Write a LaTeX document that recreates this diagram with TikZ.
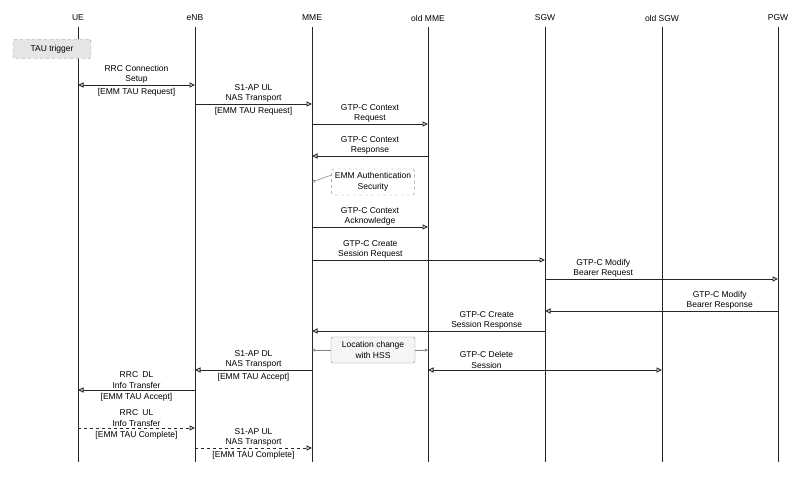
\documentclass[tikz,border=0pt]{standalone}
\usepackage{fontspec}
\setmainfont{Liberation Sans}
\usepackage{xcolor}
\usetikzlibrary{arrows.meta,positioning}

\begin{document}
\begin{tikzpicture}[x=1pt,y=-1pt,
	font=\fontsize{8.5}{10.5}\selectfont,
	life/.style={draw=black!85, line width=0.8pt},
	msg/.style={draw=black!85, line width=0.9pt, -{Triangle[open,length=5.5pt,width=5pt]}},
	both/.style={msg, {Triangle[open,length=5.5pt,width=5pt]}-{Triangle[open,length=5.5pt,width=5pt]}},
	lbl/.style={above=0pt, align=center, inner sep=1pt},
	sub/.style={below=2pt, inner sep=1pt},
	side/.style={draw=black!50, line width=0.5pt, -{Triangle[open,length=3pt,width=3pt]}},
	comment/.style={rectangle, rounded corners=2pt, align=center, draw=black!45, minimum height=26pt}]
	\useasboundingbox (0,0) rectangle (800,487);
	% lifelines
	\node (ue) at (78,18) {UE};
	\node (enb) at (195,18) {eNB};
	\node (mme) at (312,18) {MME};
	\node (oldmme) at (428,18) {old MME};
	\node (sgw) at (545,18) {SGW};
	\node (oldsgw) at (662,18) {old SGW};
	\node (pgw) at (778,18) {PGW};
	\coordinate (top) at (0,27);
	\coordinate (bottom) at (0,462);
	\foreach \n in {ue,enb,mme,oldmme,sgw,oldsgw,pgw}
		\draw [life] (\n |- top) -- (\n |- bottom);
	
	\node (tau) [comment, dashed, fill=black!10, minimum width=78pt, minimum height=19pt] at (52,49) {TAU trigger};
	
	\coordinate (m1) at (0,85);
	\draw [both] (ue |- m1) -- node [lbl] {RRC Connection\\Setup} node [sub] {[EMM TAU Request]} (enb |- m1);
	\coordinate (m2) at (0,104);
	\draw [msg] (enb |- m2) -- node [lbl] {S1-AP UL\\NAS Transport} node [sub] {[EMM TAU Request]} (mme |- m2);
	\coordinate (m3) at (0,124);
	\draw [msg] (mme |- m3) -- node [lbl] {GTP-C Context\\Request} (oldmme |- m3);
	\coordinate (m4) at (0,156);
	\draw [msg] (oldmme |- m4) -- node [lbl] {GTP-C Context\\Response} (mme |- m4);
	
	\node (auth) [comment, dashed, minimum width=80pt] at (373,182) {EMM Authentication\\Security};
	\draw [side] ([yshift=7pt]auth.west) -- (mme |- auth.west);
	
	\coordinate (m5) at (0,227);
	\draw [msg] (mme |- m5) -- node [lbl] {GTP-C Context\\Acknowledge} (oldmme |- m5);
	\coordinate (m6) at (0,260);
	\draw [msg] (mme |- m6) -- node [lbl, pos=0.25] {GTP-C Create\\Session Request} (sgw |- m6);
	\coordinate (m7) at (0,279);
	\draw [msg] (sgw |- m7) -- node [lbl, pos=0.25] {GTP-C Modify\\Bearer Request} (pgw |- m7);
	\coordinate (m8) at (0,311);
	\draw [msg] (pgw |- m8) -- node [lbl, pos=0.25] {GTP-C Modify\\Bearer Response} (sgw |- m8);
	\coordinate (m9) at (0,331);
	\draw [msg] (sgw |- m9) -- node [lbl, pos=0.25] {GTP-C Create\\Session Response} (mme |- m9);
	
	\node (hss) [comment, fill=black!4, minimum width=84pt] at (373,350) {Location change\\with HSS};
	\draw [side] (hss.west) -- (mme |- hss.west);
	\draw [side] (hss.east) -- (oldmme |- hss.east);
	
	\coordinate (m10) at (0,370);
	\draw [both] (oldmme |- m10) -- node [lbl, pos=0.25] {GTP-C Delete\\Session} (oldsgw |- m10);
	\draw [msg] (mme |- m10) -- node [lbl] {S1-AP DL\\NAS Transport} node [sub] {[EMM TAU Accept]} (enb |- m10);
	\coordinate (m11) at (0,390);
	\draw [msg] (enb |- m11) -- node [lbl] {RRC\enspace DL\\Info Transfer} node [sub] {[EMM TAU Accept]} (ue |- m11);
	\coordinate (m12) at (0,428);
	\draw [msg, dashed] (ue |- m12) -- node [lbl] {RRC\enspace UL\\Info Transfer} node [sub] {[EMM TAU Complete]} (enb |- m12);
	\coordinate (m13) at (0,448);
	\draw [msg, dashed] (enb |- m13) -- node [lbl] {S1-AP UL\\NAS Transport} node [sub] {[EMM TAU Complete]} (mme |- m13);
\end{tikzpicture}
\end{document}
